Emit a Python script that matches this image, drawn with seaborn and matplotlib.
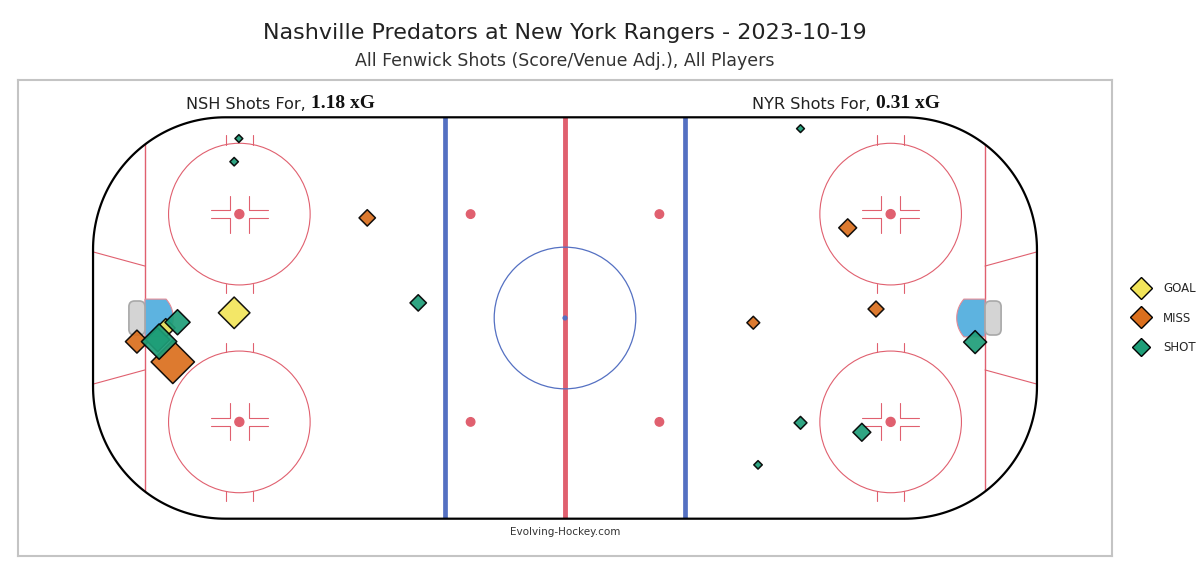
import numpy as np
import pandas as pd
import matplotlib.pyplot as plt
import seaborn as sns
from matplotlib.patches import Circle, FancyBboxPatch, Polygon
from matplotlib.lines import Line2D

sns.set_style('white')
plt.rcParams['font.family'] = ['DejaVu Sans']

# ---------------------------------------------------
# shot data (feet, rink centre = 0,0)
# ---------------------------------------------------
event_order = ['GOAL', 'MISS', 'SHOT']
event_colors = ['#F2E55A', '#DB6F1D', '#1E9E78']

# NSH shoot at the left net
nsh_event = ['GOAL', 'GOAL', 'MISS', 'MISS', 'MISS',
             'SHOT', 'SHOT', 'SHOT', 'SHOT', 'SHOT', 'SHOT']
nsh_x = [-70.1, -84.6, -41.9, -90.7, -83.1,
         -69.1, -70.1, -31.1, -86.3, -82.1, -86.0]
nsh_y = [1.1, -2.1, 21.2, -5.0, -9.3,
         38.0, 33.1, 3.2, -4.6, -0.9, -5.0]
nsh_xg = [0.19, 0.065, 0.05, 0.10, 0.36,
          0.01, 0.012, 0.05, 0.11, 0.12, 0.24]

# NYR shoot at the right net
nyr_event = ['MISS', 'MISS', 'MISS',
             'SHOT', 'SHOT', 'SHOT', 'SHOT', 'SHOT']
nyr_x = [59.9, 65.9, 39.9,
         49.9, 86.9, 49.9, 62.9, 40.9]
nyr_y = [19.1, 1.9, -1.0,
         40.1, -5.1, -22.2, -24.2, -31.1]
nyr_xg = [0.06, 0.047, 0.03,
          0.01, 0.10, 0.03, 0.06, 0.012]

team_labels = ['NSH', 'NYR']
team_xg_text = ['1.18 xG', '0.31 xG']

title_text = 'Nashville Predators at New York Rangers - 2023-10-19'
subtitle_text = 'All Fenwick Shots (Score/Venue Adj.), All Players'

shots = pd.concat([
    pd.DataFrame({'team': 'NSH', 'event': nsh_event, 'x': nsh_x, 'y': nsh_y, 'xg': nsh_xg}),
    pd.DataFrame({'team': 'NYR', 'event': nyr_event, 'x': nyr_x, 'y': nyr_y, 'xg': nyr_xg}),
], ignore_index=True)
shots['event'] = pd.Categorical(shots['event'], categories=event_order, ordered=True)
shots = shots.sort_values('event', kind='stable')

# ---------------------------------------------------
# figure / axes
# ---------------------------------------------------
W, H = 1200, 575
fig = plt.figure(figsize=(W / 100, H / 100), dpi=100)
ax = fig.add_axes([18 / W, (H - 556) / H, (1112 - 18) / W, (556 - 80) / H])
ax.set_xlim(-115.9, 115.9)
ax.set_ylim(-50.4, 50.4)
ax.set_xticks([])
ax.set_yticks([])
for sp in ax.spines.values():
    sp.set_color('#c4c4c4')
    sp.set_linewidth(1.5)

red = '#E0606F'
blue = '#5470C2'

# rink outline with true circular corners (also used as clip path)
R = 28
pts = []
for (ccx, ccy), a0 in [((100 - R, 42.5 - R), 0), ((-100 + R, 42.5 - R), 90),
                       ((-100 + R, -42.5 + R), 180), ((100 - R, -42.5 + R), 270)]:
    a = np.deg2rad(np.linspace(a0, a0 + 90, 60))
    pts.append(np.column_stack([ccx + R * np.cos(a), ccy + R * np.sin(a)]))
rink = Polygon(np.vstack(pts), closed=True, facecolor='none', edgecolor='black',
               lw=1.6, zorder=4)
ax.add_patch(rink)

clipped = []
# centre red line and blue lines
clipped += ax.plot([0, 0], [-42.5, 42.5], color=red, lw=3.5, zorder=2,
                   solid_capstyle='butt')
for bx in (-25.5, 25.5):
    clipped += ax.plot([bx, bx], [-42.5, 42.5], color=blue, lw=3.4, zorder=2,
                       solid_capstyle='butt')
# goal lines
for gx in (-89, 89):
    clipped += ax.plot([gx, gx], [-42.5, 42.5], color=red, lw=1.0, zorder=2)

# centre circle + dot
ax.add_patch(Circle((0, 0), 15, fill=False, edgecolor=blue, lw=0.9, zorder=2))
ax.add_patch(Circle((0, 0), 0.4, color=blue, zorder=2))

# neutral zone dots
for nx in (-20, 20):
    for ny in (-22, 22):
        ax.add_patch(Circle((nx, ny), 0.9, color=red, zorder=2))

# end zone faceoff circles
for cx in (-69, 69):
    for cy in (-22, 22):
        ax.add_patch(Circle((cx, cy), 15, fill=False, edgecolor=red, lw=0.8, zorder=2))
        ax.add_patch(Circle((cx, cy), 0.95, color=red, zorder=2))
        for sx in (-1, 1):
            for sy in (-1, 1):
                # hash marks outside the circle
                ax.plot([cx + sx * 2.9, cx + sx * 2.9],
                        [cy + sy * 14.7, cy + sy * 16.8], color=red, lw=0.8, zorder=2)
                # L marks near the dot
                ax.plot([cx + sx * 6, cx + sx * 2, cx + sx * 2],
                        [cy + sy * 0.85, cy + sy * 0.85, cy + sy * 3.9],
                        color=red, lw=0.8, zorder=2)

# trapezoids, creases, nets
for side in (-1, 1):
    for sy in (-1, 1):
        clipped += ax.plot([side * 89, side * 100], [sy * 11, sy * 14],
                           color=red, lw=0.8, zorder=2)
    t = np.linspace(np.arcsin(4 / 6), -np.arcsin(4 / 6), 40)
    arc_x = side * 89 - side * 6 * np.cos(t)
    arc_y = 6 * np.sin(t)
    crease = np.column_stack([np.r_[side * 89, arc_x, side * 89],
                              np.r_[4, arc_y, -4]])
    ax.add_patch(Polygon(crease, closed=True, facecolor='#5DB3E0',
                         edgecolor='#E58A95', lw=0.8, zorder=3))
    net = FancyBboxPatch((89 if side > 0 else -89 - 3.4, -3.6), 3.4, 7.2,
                         boxstyle='round,pad=0,rounding_size=1.2',
                         facecolor='#D4D4D4', edgecolor='#A8A8A8', lw=1.2, zorder=3)
    ax.add_patch(net)

for art in clipped:
    art.set_clip_path(rink)

# ---------------------------------------------------
# shots
# ---------------------------------------------------
sns.scatterplot(data=shots, x='x', y='y', hue='event', hue_order=event_order,
                palette=event_colors, size='xg', sizes=(16, 500), size_norm=(0.01, 0.37),
                marker='D', edgecolor='black', linewidth=1.1, alpha=0.92,
                legend=False, ax=ax, zorder=6)
ax.set_xlabel('')
ax.set_ylabel('')

# ---------------------------------------------------
# texts
# ---------------------------------------------------
fig.text(565 / W, 1 - 33 / H, title_text, ha='center', va='center', fontsize=16, color='#222222')
fig.text(565 / W, 1 - 61 / H, subtitle_text, ha='center', va='center', fontsize=12.5, color='#333333')

for tx, team, xg in zip((-80.3, 39.6), team_labels, team_xg_text):
    t1 = ax.text(tx, 43.6, f'{team} Shots For, ', ha='left', va='bottom',
                 fontsize=11.6, color='#222222')
    ax.annotate(xg, xy=(1, 0), xycoords=t1, ha='left', va='bottom',
                fontsize=14, fontweight='bold', family='Liberation Serif', color='#111111')

ax.text(0, -44.2, 'Evolving-Hockey.com', ha='center', va='top', fontsize=7.5, color='#333333')

# legend
handles = [Line2D([], [], ls='none', marker='D', markersize=ms, markerfacecolor=c,
                  markeredgecolor='black', markeredgewidth=1.0)
           for c, ms in zip(event_colors, (11.5, 11.5, 9.0))]
fig.legend(handles, event_order, loc='center left', bbox_to_anchor=(1122 / W, 1 - 318 / H),
           frameon=False, fontsize=8.5, labelspacing=1.4, handletextpad=1.2,
           handlelength=1.4)

fig.savefig('out.png', dpi=100)
